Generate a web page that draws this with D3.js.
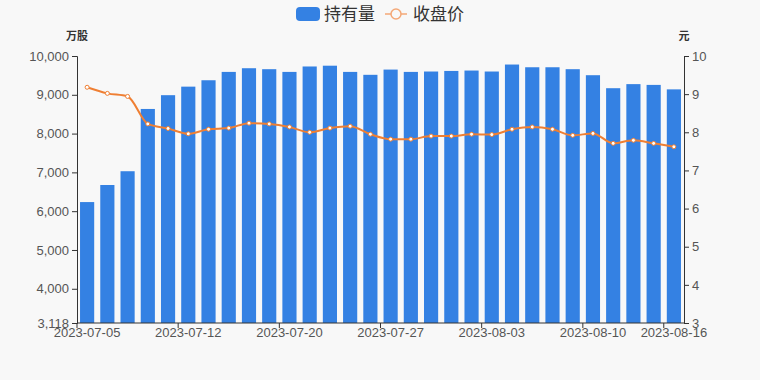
<!DOCTYPE html>
<html>
<head>
<meta charset="utf-8">
<script src="https://cdn.jsdelivr.net/npm/d3@7"></script>
<style>
  body { margin: 0; background: #f8f8f8; }
  svg { font-family: "Noto Sans CJK SC", "Liberation Sans", sans-serif; }
</style>
</head>
<body>
<div id="chart"></div>
<script>
// data
var dates = ['2023-07-05', '2023-07-06', '2023-07-07', '2023-07-10', '2023-07-11',
    '2023-07-12', '2023-07-13', '2023-07-14', '2023-07-17', '2023-07-18',
    '2023-07-20', '2023-07-21', '2023-07-24', '2023-07-25', '2023-07-26',
    '2023-07-27', '2023-07-28', '2023-07-31', '2023-08-01', '2023-08-02',
    '2023-08-03', '2023-08-04', '2023-08-07', '2023-08-08', '2023-08-09',
    '2023-08-10', '2023-08-11', '2023-08-14', '2023-08-15', '2023-08-16'];

// 持有量 (万股)
var holdings = [6235, 6675, 7030, 8635, 8990, 9210, 9375, 9590, 9685, 9660,
    9590, 9730, 9750, 9590, 9515, 9650, 9590, 9600, 9615, 9625,
    9600, 9780, 9710, 9710, 9660, 9505, 9170, 9275, 9255, 9140];

// 收盘价 (元)
var prices = [9.18, 9.02, 8.94, 8.22, 8.10, 7.96, 8.08, 8.11, 8.24, 8.22,
    8.14, 8.00, 8.11, 8.16, 7.95, 7.82, 7.82, 7.90, 7.90, 7.95,
    7.94, 8.08, 8.14, 8.08, 7.92, 7.97, 7.71, 7.79, 7.71, 7.62];

var leftTicks = [3118, 4000, 5000, 6000, 7000, 8000, 9000, 10000];
var rightTicks = [3, 4, 5, 6, 7, 8, 9, 10];
var shownDates = ['2023-07-05', '2023-07-12', '2023-07-20', '2023-07-27',
    '2023-08-03', '2023-08-10', '2023-08-16'];

var width = 760;
var height = 380;
var plotLeft = 77;
var plotRight = 684;
var plotTop = 56;
var plotBottom = 323;

var barColor = '#3481e3';
var lineColor = '#ef7f33';
var textColor = '#555';

var svg = d3.select('#chart')
    .append('svg')
    .attr('width', width)
    .attr('height', height);

svg.append('rect')
    .attr('width', width)
    .attr('height', height)
    .attr('fill', '#f8f8f8');

// scales
var xScale = d3.scaleBand()
    .domain(dates)
    .range([plotLeft, plotRight])
    .paddingInner(0.3)
    .paddingOuter(0.15);

var xBand = d3.scaleBand()
    .domain(dates)
    .range([plotLeft, plotRight]);

var yLeft = d3.scaleLinear()
    .domain([3118, 10000])
    .range([plotBottom, plotTop]);

var yRight = d3.scaleLinear()
    .domain([3, 10])
    .range([plotBottom, plotTop]);

// bars
svg.append('g')
    .selectAll('rect')
    .data(holdings)
    .enter()
    .append('rect')
    .attr('x', function(d, i) { return xScale(dates[i]); })
    .attr('width', xScale.bandwidth())
    .attr('y', function(d) { return yLeft(d); })
    .attr('height', function(d) { return plotBottom - yLeft(d); })
    .attr('fill', barColor);

// axes
var leftAxis = svg.append('g')
    .attr('transform', 'translate(' + plotLeft + ',0)')
    .call(d3.axisLeft(yLeft).tickValues(leftTicks).tickFormat(d3.format(',')).tickSize(5).tickPadding(3));

var rightAxis = svg.append('g')
    .attr('transform', 'translate(' + plotRight + ',0)')
    .call(d3.axisRight(yRight).tickValues(rightTicks).tickFormat(d3.format('d')).tickSize(5).tickPadding(3));

var xAxis = svg.append('g')
    .attr('transform', 'translate(0,' + plotBottom + ')')
    .call(d3.axisBottom(xBand).tickValues(shownDates).tickSize(0).tickPadding(3));

// ticks sit on the left boundary of each labeled band
xAxis.selectAll('.tick line').remove();
xAxis.selectAll('.tick')
    .append('line')
    .attr('x1', -xBand.bandwidth() / 2)
    .attr('x2', -xBand.bandwidth() / 2)
    .attr('y1', 0)
    .attr('y2', 5);

[leftAxis, rightAxis, xAxis].forEach(function(ax) {
    ax.select('.domain').attr('stroke', '#333');
    ax.selectAll('.tick line').attr('stroke', '#333');
    ax.selectAll('text')
        .attr('fill', textColor)
        .style('font-family', '"Liberation Sans", Arial, sans-serif')
        .style('font-size', '13px');
});
xAxis.select('.domain').attr('d', 'M' + plotLeft + ',0H' + plotRight);
xAxis.selectAll('text').attr('dy', '0.85em');

// line
var line = d3.line()
    .x(function(d, i) { return xBand(dates[i]) + xBand.bandwidth() / 2; })
    .y(function(d) { return yRight(d); })
    .curve(d3.curveMonotoneX);

svg.append('path')
    .datum(prices)
    .attr('d', line)
    .attr('fill', 'none')
    .attr('stroke', lineColor)
    .attr('stroke-width', 2);

svg.append('g')
    .selectAll('circle')
    .data(prices)
    .enter()
    .append('circle')
    .attr('cx', function(d, i) { return xBand(dates[i]) + xBand.bandwidth() / 2; })
    .attr('cy', function(d) { return yRight(d); })
    .attr('r', 2)
    .attr('fill', '#fff')
    .attr('stroke', lineColor)
    .attr('stroke-width', 1);

// unit labels
svg.append('text')
    .attr('x', plotLeft)
    .attr('y', 40)
    .attr('text-anchor', 'middle')
    .attr('font-size', 11)
    .attr('font-weight', 'bold')
    .attr('fill', '#333')
    .text('万股');

svg.append('text')
    .attr('x', plotRight)
    .attr('y', 40)
    .attr('text-anchor', 'middle')
    .attr('font-size', 11)
    .attr('font-weight', 'bold')
    .attr('fill', '#333')
    .text('元');

// legend
var legend = svg.append('g');

legend.append('rect')
    .attr('x', 296)
    .attr('y', 7)
    .attr('width', 24)
    .attr('height', 14)
    .attr('rx', 4)
    .attr('fill', barColor);

legend.append('text')
    .attr('x', 324)
    .attr('y', 20)
    .attr('font-size', 17)
    .attr('fill', '#333')
    .text('持有量');

legend.append('line')
    .attr('x1', 385)
    .attr('x2', 407)
    .attr('y1', 14)
    .attr('y2', 14)
    .attr('stroke', '#f4a877')
    .attr('stroke-width', 1.5);

legend.append('circle')
    .attr('cx', 396)
    .attr('cy', 14)
    .attr('r', 5)
    .attr('fill', '#f8f8f8')
    .attr('stroke', '#f4a877')
    .attr('stroke-width', 1.5);

legend.append('text')
    .attr('x', 413)
    .attr('y', 20)
    .attr('font-size', 17)
    .attr('fill', '#333')
    .text('收盘价');
</script>
</body>
</html>
